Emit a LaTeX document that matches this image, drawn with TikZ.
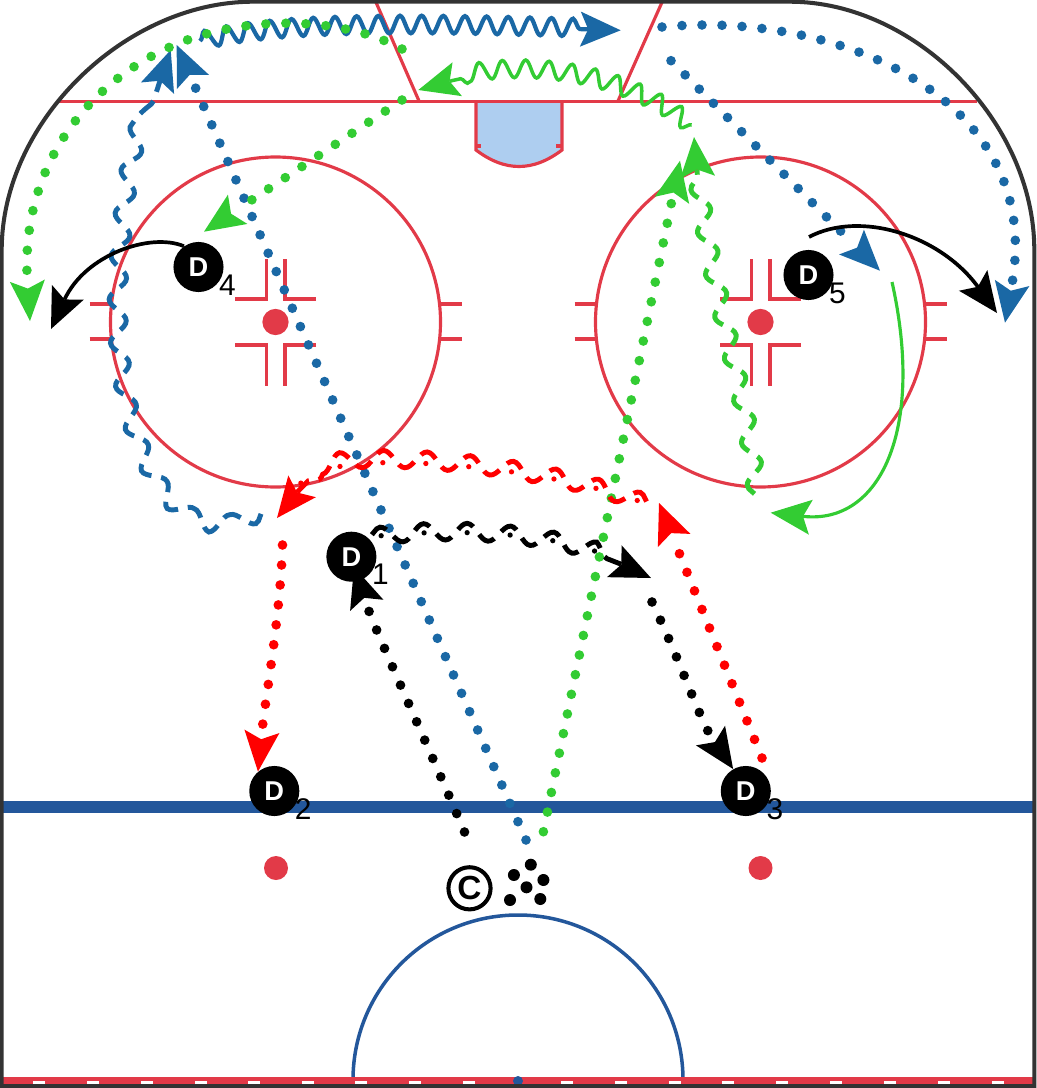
\documentclass[tikz,border=0pt]{standalone}
\usepackage{fontspec}
\setmainfont{Liberation Sans}
\usetikzlibrary{arrows.meta,backgrounds,calc,decorations.pathmorphing}
\definecolor{rinkred}{HTML}{E23A48}
\definecolor{rinkblue}{HTML}{23579B}
\definecolor{creaseblue}{HTML}{AECEF0}
\definecolor{boardgrey}{HTML}{333333}
\definecolor{passblue}{HTML}{1A68A5}
\definecolor{passgreen}{HTML}{33CC33}
\tikzset{
	passtip/.tip={Stealth[length=23pt,width=20pt,inset=4.5pt,line width=0pt]},
	rinkline/.style={draw=rinkred,line width=1.8pt},
	player/.style={circle,fill=black,text=white,minimum size=28.5pt,inner sep=0pt,font=\fontsize{15.5}{15.5}\selectfont\bfseries},
	playernum/.style={inner sep=0pt,font=\fontsize{17}{17}\selectfont},
	coachmark/.style={circle,draw=black,line width=2.3pt,minimum size=24pt,inner sep=0pt,font=\fontsize{19}{19}\selectfont\bfseries},
	dotline/.style={line width=5.5pt,line cap=round,dash pattern=on 0pt off 11.4pt,shorten >=22pt},
	tiponly/.style={line width=0.4pt,dash pattern=on 0pt off 3000pt,-passtip},
	solidpass/.style={line width=2.1pt,-passtip},
	wavepass/.style={line width=2.4pt,-passtip,decorate,decoration={snake,segment length=12.3pt,amplitude=5pt,post length=20pt}},
	dashpass/.style={line width=2.8pt,-passtip,dash pattern=on 10.4pt off 5.6pt,dash phase=13.2pt,decorate,decoration={snake,segment length=24.5pt,amplitude=4.8pt,post length=20pt}},
	axisdots/.style={line width=3pt,line cap=round,dash pattern=on 0pt off 24.5pt,dash phase=16.8pt}
}
\def\dotpass[#1]#2;{\draw[#1,dotline] #2; \draw[#1,tiponly] #2;}
\def\dashdotpass[#1]#2;{\draw[#1,dashpass] #2; \draw[#1,axisdots,shorten >=20pt] #2;}

\begin{document}
\begin{tikzpicture}[x=0.02cm,y=-0.02cm]
	\useasboundingbox (0,0) rectangle (1036,1088);
	
	%%%%% PLAYERS %%%%%
	\foreach \n/\x/\y in {1/351.4/556.7,2/274.3/791,3/745.8/791,4/198.5/267,5/808.5/275}{
		\node[player] (D\n) at (\x,\y) {D};
		\node[playernum] (num\n) at ($(D\n)+(29,18)$) {\n};
	}
	\node[coachmark] (coach) at (469.5,888.3) {C};
	
	%%%%% RINK %%%%%
	\begin{scope}[on background layer]
		\draw[rinkline,fill=creaseblue] (476,101) -- (476,150) .. controls (505,172) and (533,172) .. (562,150) -- (562,101);
		\draw[rinkline] (476,146) -- (481,146);
		\draw[rinkline] (556,146) -- (562,146);
		\draw[rinkline] (58,101.5) -- (977,101.5);
		\draw[rinkline] (375,0) -- (419,101);
		\draw[rinkline] (663,0) -- (618,101);
		
		\foreach \x in {275.5,760.5}{
			\draw[rinkline] (\x,322) circle (165);
			\draw[rinkline,fill=rinkred] (\x,322) circle (11.5);
			\foreach \y in {304,339}{
				\draw[rinkline] (\x-186,\y) -- (\x-165,\y);
				\draw[rinkline] (\x+165,\y) -- (\x+186,\y);
			}
			\draw[rinkline] (\x-40.5,299) -- (\x-9,299) -- (\x-9,258.5);
			\draw[rinkline] (\x+40.5,299) -- (\x+9.5,299) -- (\x+9.5,258.5);
			\draw[rinkline] (\x-40.5,345) -- (\x-9,345) -- (\x-9,386);
			\draw[rinkline] (\x+40.5,345) -- (\x+9.5,345) -- (\x+9.5,386);
		}
		
		\draw[color=rinkblue,line width=6.6pt] (0,807) -- (1036,807);
		\draw[fill=rinkred,draw=none] (276,868) circle (12);
		\draw[fill=rinkred,draw=none] (760.5,868) circle (12);
		\draw[color=rinkblue,line width=2pt] (353,1080) arc[start angle=180,end angle=360,radius=165];
		\draw[color=rinkred,line width=4.3pt] (0,1080.5) -- (1036,1080.5);
		\foreach \x in {39,93,147,201,254,308,361,415,469,567,621,675,728,782,836,890,944,998}{
			\draw[color=white,line width=1.9pt] (\x-6,1082.4) -- (\x+6,1082.4);
		}
		\draw[fill=rinkblue,draw=none] (518,1081) circle (5);
		\draw[color=boardgrey,line width=2.3pt] (1.7,1088) -- (1.7,250) .. controls (1.7,122) and (125,1.7) .. (253,1.7) -- (790,1.7) .. controls (915,1.7) and (1034.3,122) .. (1034.3,250) -- (1034.3,1088);
		\draw[color=boardgrey,line width=2.3pt] (0,1086) -- (1036,1086);
		
		\foreach \x/\y in {530.8/864.7,513.9/875,543.4/880,526.5/887.3,510/900,540.3/899}{
			\draw[fill=black,draw=none] (\x,\y) circle (6);
		}
	\end{scope}
	
	%%%%% PASSES %%%%%
	\coordinate (bwaveA) at (200,41);
	\coordinate (bwaveB) at (620.7,30.3);
	\coordinate (bdashA) at (264,510);
	\coordinate (bdashB) at (170.7,50);
	\coordinate (bdotA) at (526,840);
	\coordinate (bdotB) at (176.7,45);
	\coordinate (bdotC) at (671,60.7);
	\coordinate (bdotD) at (880,270.7);
	\coordinate (bdotE) at (662,27);
	\coordinate (bdotF) at (1005,322.7);
	
	\coordinate (gwaveA) at (691.7,125);
	\coordinate (gwaveB) at (418.3,90);
	\coordinate (gdashA) at (757,498);
	\coordinate (gdashB) at (694,137);
	\coordinate (gdotA) at (543.4,831.7);
	\coordinate (gdotB) at (680,160.7);
	\coordinate (gdotC) at (402,100);
	\coordinate (gdotD) at (204,231.7);
	\coordinate (gdotE) at (402,49);
	\coordinate (gdotF) at (30,321);
	\coordinate (glineA) at (892,282);
	\coordinate (glineB) at (770.7,512.7);
	
	\coordinate (rwaveA) at (650,505);
	\coordinate (rwaveB) at (277,518);
	\coordinate (rdotA) at (282.5,545);
	\coordinate (rdotB) at (762,758);
	\coordinate (rdotC) at (659,503);
	
	\coordinate (kcurveA) at (51,329);
	\coordinate (kcurveB) at (809,237);
	\coordinate (kcurveC) at (997,313);
	\coordinate (kwaveB) at (651,578);
	\coordinate (kdotA) at (464.5,832);
	\coordinate (kdotB) at (354,567);
	\coordinate (kdotC) at (652,602);
	
	\begin{scope}[on background layer]
		\draw[wavepass,color=passblue] (bwaveA) .. controls (290,18) and (500,27) .. (bwaveB);
		\draw[dashpass,color=passblue] (bdashA) .. controls (225,530) and (185,520) .. (155,455) .. controls (130,400) and (122,320) .. (130,240) .. controls (135,170) and (145,120) .. (bdashB);
		\dotpass[color=passblue] (bdotA) -- (bdotB);
		\dotpass[color=passblue] (bdotC) -- (bdotD);
		\dotpass[color=passblue] (bdotE) .. controls (840,10) and (1045,100) .. (bdotF);
		
		\draw[wavepass,color=passgreen,line width=2pt,decoration={segment length=13pt}] (gwaveA) .. controls (640,85) and (540,50) .. (gwaveB);
		\draw[dashpass,color=passgreen] (gdashA) .. controls (745,380) and (705,290) .. (gdashB);
		\dotpass[color=passgreen] (gdotA) -- (gdotB);
		\dotpass[color=passgreen] (gdotC) -- (gdotD);
		\dotpass[color=passgreen] (gdotE) .. controls (340,15) and (240,15) .. (170,47) .. controls (85,85) and (20,170) .. (gdotF);
		\draw[solidpass,color=passgreen,line width=1.8pt] (glineA) .. controls (925,430) and (880,525) .. (glineB);
		
		\dashdotpass[color=red,decoration={mirror}] (rwaveA) .. controls (570,475) and (450,460) .. (370,463) .. controls (330,465) and (305,475) .. (rwaveB);
		\dotpass[color=red] (rdotA) .. controls (280,620) and (265,700) .. (D2.130);
		\dotpass[color=red] (rdotB) -- (rdotC);
		
		\draw[solidpass,color=black] (D4.125) .. controls (150,232) and (85,255) .. (kcurveA);
		\draw[solidpass,color=black] (kcurveB) .. controls (860,210) and (940,235) .. (kcurveC);
		\dashdotpass[color=black] (D1.50) .. controls (440,528) and (560,530) .. (kwaveB);
		\dotpass[color=black] (kdotA) .. controls (430,750) and (375,630) .. (kdotB);
		\dotpass[color=black] (kdotC) .. controls (680,660) and (700,720) .. (D3.120);
	\end{scope}
\end{tikzpicture}
\end{document}
